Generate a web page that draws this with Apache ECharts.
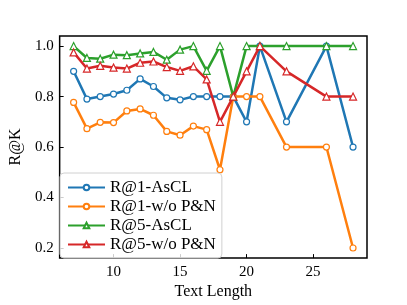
<!DOCTYPE html>
<html><head><meta charset="utf-8">
<script src="https://cdn.jsdelivr.net/npm/echarts@6/dist/echarts.min.js"></script>
<style>html,body{margin:0;padding:0;background:#fff}#c{width:407px;height:305px}</style>
</head><body><div id="c"></div>
<script>
const textLength = [7,8,9,10,11,12,13,14,15,16,17,18,19,20,21,23,26,28];
const r1AsCL   = [0.90,0.79,0.80,0.81,0.825,0.87,0.84,0.795,0.787,0.80,0.80,0.80,0.80,0.70,1.00,0.70,1.00,0.60];
const r1WoPN   = [0.777,0.673,0.698,0.697,0.743,0.751,0.726,0.662,0.647,0.683,0.669,0.51,0.80,0.80,0.80,0.60,0.60,0.20];
const r5AsCL   = [1.00,0.953,0.95,0.966,0.964,0.971,0.977,0.946,0.986,1.00,0.902,1.00,0.80,1.00,1.00,1.00,1.00,1.00];
const r5WoPN   = [0.975,0.911,0.922,0.915,0.911,0.934,0.939,0.917,0.902,0.92,0.868,0.70,0.80,0.90,1.00,0.90,0.80,0.80];
const xTicks = [10,15,20,25];
const yTicks = [0.2,0.4,0.6,0.8,1.0];
const seriesNames = ['R@1-AsCL','R@1-w/o P&N','R@5-AsCL','R@5-w/o P&N'];
const seriesData = [r1AsCL, r1WoPN, r5AsCL, r5WoPN];
const colors = ['#1f77b4','#ff7f0e','#2ca02c','#d62728'];
const symbols = ['circle','circle','triangle','triangle'];

const font = 'Liberation Serif';
const chart = echarts.init(document.getElementById('c'), null, {renderer:'canvas'});
chart.setOption({
  animation:false,
  grid:{left:51,right:40,top:36,bottom:40,show:true,borderColor:'#000',borderWidth:1.5,backgroundColor:'transparent'},
  xAxis:{type:'value',min:5.95,max:29.05,
    name:'Text Length',nameLocation:'middle',nameGap:23,
    nameTextStyle:{fontFamily:font,fontSize:16,color:'#000'},
    axisLine:{show:false},splitLine:{show:false},
    axisTick:{show:true,inside:true,length:4,lineStyle:{color:'#000',width:1},customValues:xTicks},
    axisLabel:{fontFamily:font,fontSize:15,color:'#000',margin:6,customValues:xTicks}},
  yAxis:{type:'value',min:0.16,max:1.04,
    name:'R@K',nameLocation:'middle',nameGap:31,
    nameTextStyle:{fontFamily:font,fontSize:16,color:'#000'},
    axisLine:{show:false},splitLine:{show:false},
    axisTick:{show:true,inside:true,length:4,lineStyle:{color:'#000',width:1},customValues:yTicks},
    axisLabel:{fontFamily:font,fontSize:15,color:'#000',margin:6,customValues:yTicks,formatter:v=>v.toFixed(1)}},
  legend:{orient:'vertical',left:60,top:173,itemWidth:37,itemHeight:7,itemGap:0,
    padding:[5,6,4,7],borderColor:'#d0d0d0',borderWidth:1,borderRadius:4,backgroundColor:'rgba(255,255,255,0.8)',
    textStyle:{fontFamily:font,fontSize:17,color:'#000',lineHeight:19},
    data:seriesNames},
  series:seriesData.map((d,i)=>({
    name:seriesNames[i],type:'line',
    data:textLength.map((x,j)=>[x,d[j]]),
    symbol:symbols[i],symbolSize:symbols[i]==='circle'?6:7,showAllSymbol:true,
    lineStyle:{color:colors[i],width:2.5},
    itemStyle:{color:'#fff',borderColor:colors[i],borderWidth:1.2},
    z:2+i
  }))
});
</script></body></html>
